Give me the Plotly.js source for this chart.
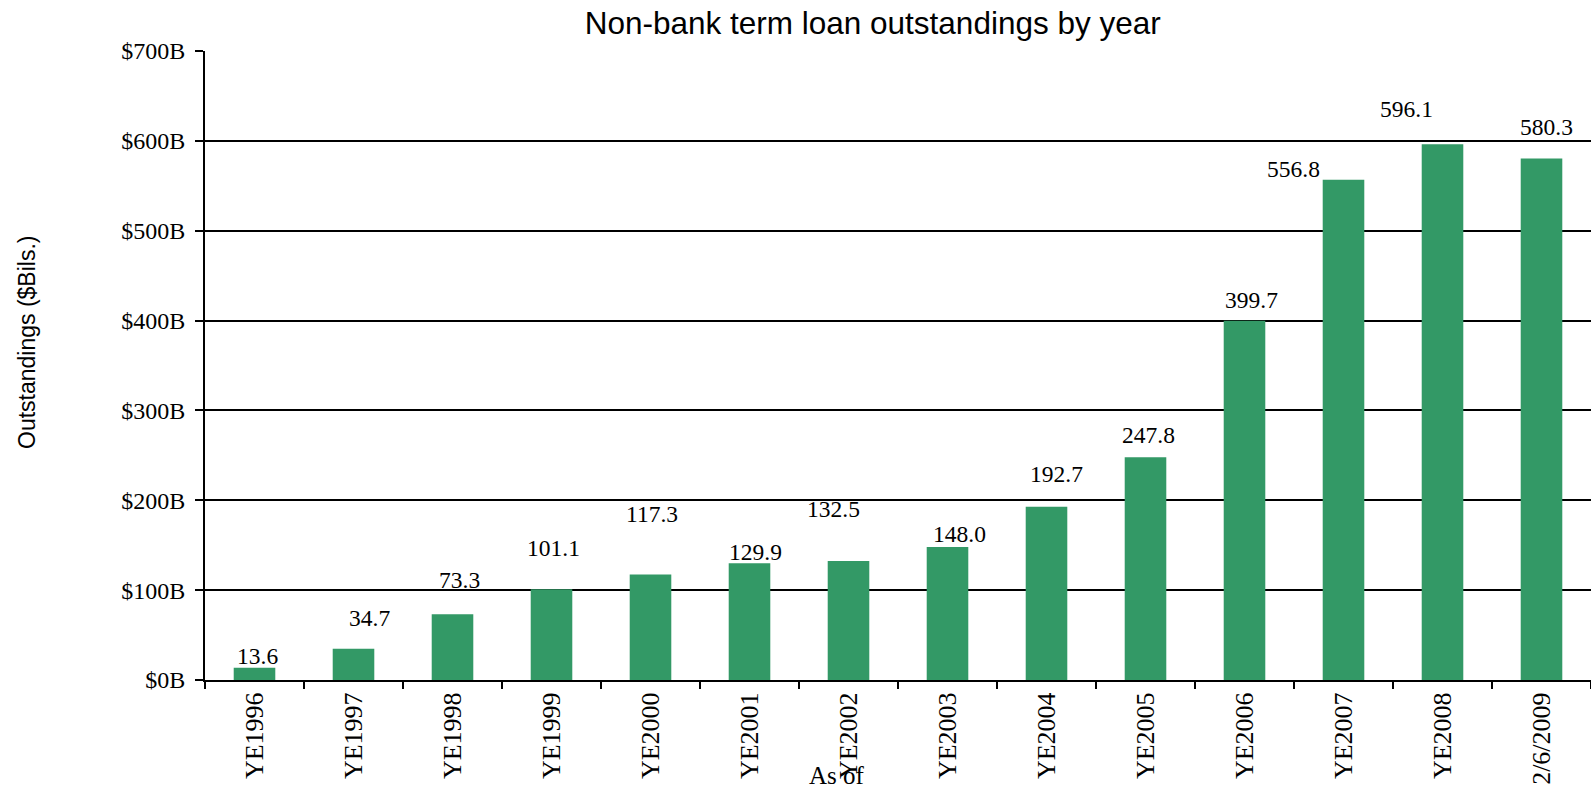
<!DOCTYPE html>
<html>
<head>
<meta charset="utf-8">
<script src="https://cdn.plot.ly/plotly-3.0.1.min.js"></script>
<style>
  html, body { margin: 0; padding: 0; background: #fff; }
  #chart { width: 1591px; height: 790px; }
</style>
</head>
<body>
<div id="chart"></div>
<script>
// Data
const categories = ["YE1996", "YE1997", "YE1998", "YE1999", "YE2000", "YE2001", "YE2002",
                    "YE2003", "YE2004", "YE2005", "YE2006", "YE2007", "YE2008", "2/6/2009"];
const outstandings = [13.6, 34.7, 73.3, 101.1, 117.3, 129.9, 132.5,
                      148.0, 192.7, 247.8, 399.7, 556.8, 596.1, 580.3];
const yTickValues = [0, 100, 200, 300, 400, 500, 600, 700];
const yTickLabels = ["$0B", "$100B", "$200B", "$300B", "$400B", "$500B", "$600B", "$700B"];

// Label placement offsets (pixels) as they appear in the reference
const labelDx = [3, 16, 7, 2, 1, 6, -15, 12, 10, 2.5, 7, -50, -36, 5];
const labelDy = [12, 31, 34, 41, 61, 11, 52, 13, 33, 22, 21, 11, 35, 32];

const serif = "Liberation Serif, Times New Roman, serif";
const sans = "Liberation Sans, Arial, sans-serif";

const trace = {
  type: "bar",
  x: categories,
  y: outstandings,
  width: 0.42,
  marker: { color: "#339966", line: { width: 0 } },
  hoverinfo: "x+y"
};

const annotations = outstandings.map((v, i) => ({
  x: categories[i],
  y: v,
  xref: "x",
  yref: "y",
  text: v.toFixed(1),
  showarrow: false,
  xanchor: "center",
  yanchor: "middle",
  xshift: labelDx[i],
  yshift: labelDy[i],
  font: { family: serif, size: 23.5, color: "#000" }
}));

annotations.push({
  text: "Outstandings ($Bils.)",
  xref: "paper", yref: "paper",
  x: (27 - 205) / 1386, y: (680 - 343) / 629,
  xanchor: "center", yanchor: "middle",
  textangle: -90,
  showarrow: false,
  font: { family: sans, size: 23, color: "#000" }
});

annotations.push({
  text: "As of",
  xref: "paper", yref: "paper",
  x: (837 - 205) / 1386, y: (680 - 776) / 629,
  xanchor: "center", yanchor: "middle",
  showarrow: false,
  font: { family: serif, size: 25, color: "#000" }
});

const layout = {
  width: 1591,
  height: 790,
  margin: { l: 205, r: 0, t: 51, b: 110, pad: 0 },
  paper_bgcolor: "#fff",
  plot_bgcolor: "#fff",
  showlegend: false,
  title: {
    text: "Non-bank term loan outstandings by year",
    font: { family: sans, size: 31.5, color: "#000" },
    xref: "container", yref: "container",
    x: 872.7 / 1591, xanchor: "center",
    y: 1 - 22.5 / 790, yanchor: "middle"
  },
  xaxis: {
    type: "category",
    tickangle: -90,
    tickfont: { family: serif, size: 26, color: "#000" },
    ticks: "outside",
    tickson: "boundaries",
    ticklen: 7,
    tickwidth: 2,
    tickcolor: "#000",
    showline: true,
    linecolor: "#000",
    linewidth: 2,
    showgrid: false,
    fixedrange: true
  },
  yaxis: {
    range: [0, 700],
    tickvals: yTickValues,
    ticktext: yTickLabels,
    tickfont: { family: serif, size: 24, color: "#000" },
    ticks: "outside",
    ticklen: 8,
    tickwidth: 2,
    tickcolor: "#000",
    ticklabelstandoff: 5,
    showline: true,
    linecolor: "#000",
    linewidth: 2,
    showgrid: true,
    gridcolor: "#000",
    gridwidth: 2,
    zeroline: false,
    fixedrange: true
  },
  bargap: 0.58,
  annotations: annotations
};

Plotly.newPlot("chart", [trace], layout, { displayModeBar: false, staticPlot: true });
</script>
</body>
</html>
